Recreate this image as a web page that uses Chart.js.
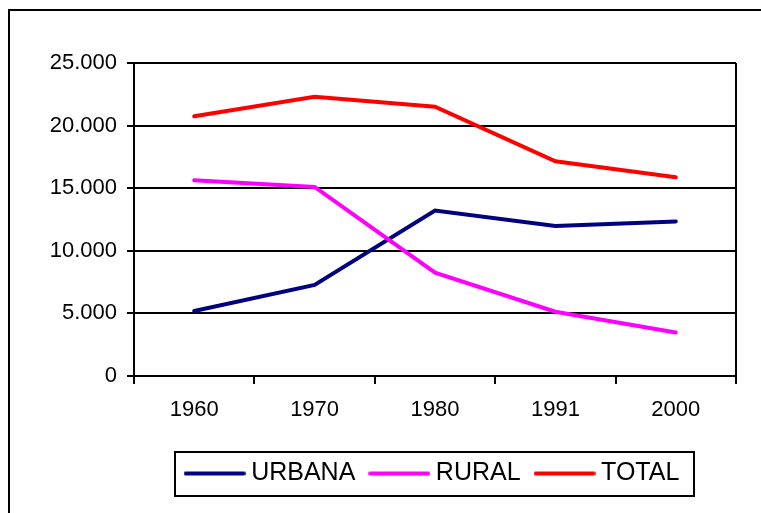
<!DOCTYPE html>
<html>
<head>
<meta charset="utf-8">
<script src="https://cdn.jsdelivr.net/npm/chart.js@4.4.1/dist/chart.umd.min.js"></script>
<style>
  html, body { margin: 0; padding: 0; background: #fff; }
  #c { display: block; }
</style>
</head>
<body>
<canvas id="c" width="761" height="513"></canvas>
<script>
const categories = ['1960', '1970', '1980', '1991', '2000'];
const seriesNames = ['URBANA', 'RURAL', 'TOTAL'];
const urbana = [5190, 7270, 13220, 11990, 12350];
const rural  = [15630, 15100, 8250, 5130, 3480];
const total  = [20740, 22310, 21510, 17150, 15870];
const seriesColors = ['#000080', '#FF00FF', '#FF0000'];
const yTicks = [0, 5000, 10000, 15000, 20000, 25000];
const yTickLabels = ['0', '5.000', '10.000', '15.000', '20.000', '25.000'];

const FONT = 'Liberation Sans, Arial, Helvetica, sans-serif';

function lineSample(color) {
  const cv = document.createElement('canvas');
  cv.width = 62; cv.height = 6;
  const g = cv.getContext('2d');
  g.strokeStyle = color; g.lineWidth = 4; g.lineCap = 'round';
  g.beginPath(); g.moveTo(2, 3); g.lineTo(60, 3); g.stroke();
  return cv;
}

const framePlugin = {
  id: 'frame',
  beforeDraw(chart) {
    const ctx = chart.ctx;
    ctx.save();
    ctx.fillStyle = '#fff';
    ctx.fillRect(0, 0, chart.width, chart.height);
    ctx.fillStyle = '#000';
    ctx.fillRect(8, 9, 2, chart.height - 9);
    ctx.fillRect(8, 9, chart.width - 8, 2);
    ctx.restore();
  },
  afterLayout(chart) {
    const lg = chart.legend;
    const ca = chart.chartArea;
    lg.left = ca.left;
    lg.right = ca.right;
    lg.width = ca.right - ca.left;
  },
  afterDraw(chart) {
    const ctx = chart.ctx;
    ctx.save();
    ctx.strokeStyle = '#000';
    ctx.lineWidth = 2;
    ctx.strokeRect(175, 452, 519, 44);
    ctx.restore();
  }
};

const seriesData = [urbana, rural, total];
new Chart(document.getElementById('c'), {
  type: 'line',
  data: {
    labels: categories,
    datasets: seriesNames.map((name, i) => ({
      label: name,
      data: seriesData[i],
      borderColor: seriesColors[i],
      backgroundColor: seriesColors[i],
      borderWidth: 4,
      borderCapStyle: 'round',
      pointRadius: 0,
      pointHoverRadius: 0,
      tension: 0,
      fill: false,
      order: name === 'RURAL' ? -1 : 0
    }))
  },
  options: {
    responsive: false,
    devicePixelRatio: 1,
    animation: false,
    events: [],
    layout: { padding: { left: 10, right: 25, top: 63, bottom: 17 } },
    plugins: {
      tooltip: { enabled: false },
      title: { display: false },
      legend: {
        display: true,
        position: 'bottom',
        align: 'center',
        labels: {
          color: '#000',
          font: { family: FONT, size: 25 },
          usePointStyle: true,
          pointStyleWidth: 48,
          padding: 20,
          sort: (a, b) => a.datasetIndex - b.datasetIndex,
          generateLabels(chart) {
            const items = Chart.defaults.plugins.legend.labels.generateLabels(chart);
            return items.map(it => Object.assign({}, it, {
              pointStyle: lineSample(seriesColors[it.datasetIndex])
            }));
          }
        }
      }
    },
    scales: {
      x: {
        type: 'category',
        offset: true,
        afterFit(scale) { scale.height = 65; },
        border: { display: true, color: '#000', width: 2 },
        grid: {
          offset: true,
          drawOnChartArea: true,
          drawTicks: true,
          tickLength: 8,
          lineWidth: 2,
          tickWidth: 2,
          tickColor: '#000',
          color: (ctx) => (ctx.type === 'tick' ? 'rgba(0,0,0,0)' : '#000')
        },
        ticks: {
          color: '#000',
          font: { family: FONT, size: 22 },
          padding: 13,
          maxRotation: 0,
          autoSkip: false
        }
      },
      y: {
        min: 0,
        max: 25000,
        afterFit(scale) { scale.width = 124; },
        afterBuildTicks(scale) { scale.ticks = yTicks.map(v => ({ value: v })); },
        border: { display: true, color: '#000', width: 2 },
        grid: {
          color: '#000',
          lineWidth: 2,
          drawTicks: true,
          tickLength: 7,
          tickWidth: 2,
          tickColor: '#000'
        },
        ticks: {
          color: '#000',
          font: { family: FONT, size: 22 },
          padding: 10,
          callback: (v) => {
            const i = yTicks.indexOf(v);
            return i >= 0 ? yTickLabels[i] : '';
          }
        }
      }
    }
  },
  plugins: [framePlugin]
});
</script>
</body>
</html>
